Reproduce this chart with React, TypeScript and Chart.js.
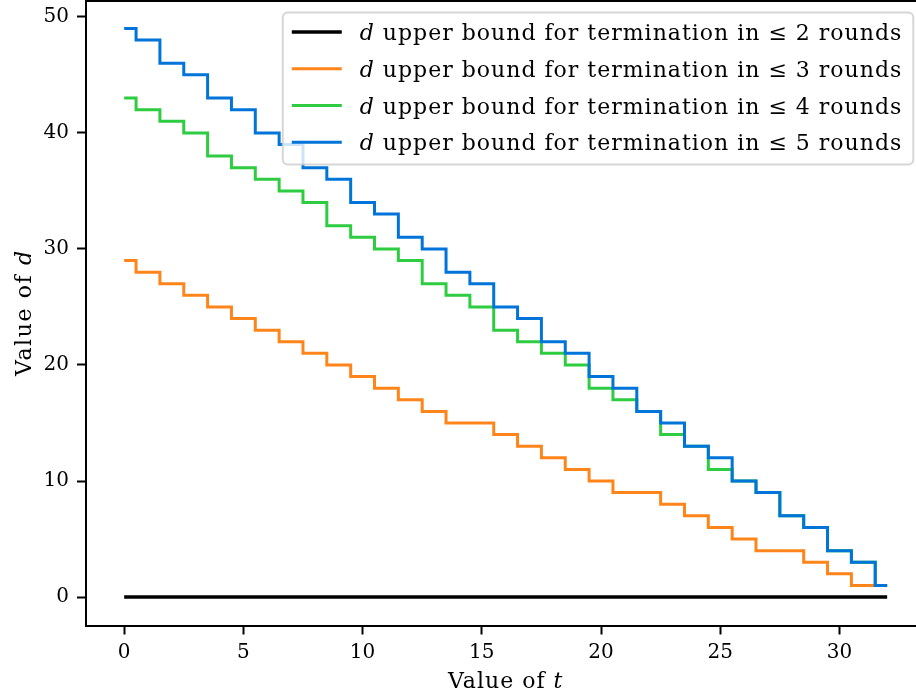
import React, { useEffect, useRef } from "react";
import { Chart, registerables } from "chart.js";

Chart.register(...registerables);

const FONT = '"DejaVu Serif", "Liberation Serif", serif';

// ---- data ----
const tValues = [0, 1, 2, 3, 4, 5, 6, 7, 8, 9, 10, 11, 12, 13, 14, 15, 16, 17, 18, 19, 20, 21, 22, 23, 24, 25, 26, 27, 28, 29, 30, 31, 32];
const boundRounds2 = [0, 0, 0, 0, 0, 0, 0, 0, 0, 0, 0, 0, 0, 0, 0, 0, 0, 0, 0, 0, 0, 0, 0, 0, 0, 0, 0, 0, 0, 0, 0, 0, 0];
const boundRounds3 = [29, 28, 27, 26, 25, 24, 23, 22, 21, 20, 19, 18, 17, 16, 15, 15, 14, 13, 12, 11, 10, 9, 9, 8, 7, 6, 5, 4, 4, 3, 2, 1, 1];
const boundRounds4 = [43, 42, 41, 40, 38, 37, 36, 35, 34, 32, 31, 30, 29, 27, 26, 25, 23, 22, 21, 20, 18, 17, 16, 14, 13, 11, 10, 9, 7, 6, 4, 3, 1];
const boundRounds5 = [49, 48, 46, 45, 43, 42, 40, 39, 37, 36, 34, 33, 31, 30, 28, 27, 25, 24, 22, 21, 19, 18, 16, 15, 13, 12, 10, 9, 7, 6, 4, 3, 1];
const roundLimits = [2, 3, 4, 5];
const seriesColors = ["#000000", "#FF851B", "#2ECC40", "#0074D9"];
const xTickValues = [0, 5, 10, 15, 20, 25, 30];
const yTickValues = [0, 10, 20, 30, 40, 50];
const legendVariable = "d";
const legendTexts = roundLimits.map((r) => ` upper bound for termination in ≤ ${r} rounds`);
const xTitle = ["Value of ", "t"];
const yTitle = ["Value of ", "d"];

type Part = { text: string; italic: boolean };

function partsWidth(ctx: CanvasRenderingContext2D, parts: Part[], size: number) {
  let w = 0;
  for (const p of parts) {
    ctx.font = `${p.italic ? "italic " : ""}${size}px ${FONT}`;
    w += ctx.measureText(p.text).width;
  }
  return w;
}

function drawParts(ctx: CanvasRenderingContext2D, parts: Part[], x: number, y: number, size: number) {
  let cx = x;
  for (const p of parts) {
    ctx.font = `${p.italic ? "italic " : ""}${size}px ${FONT}`;
    ctx.fillText(p.text, cx, y);
    cx += ctx.measureText(p.text).width;
  }
}

const overlayPlugin = {
  id: "overlay",
  afterDraw(chart: any) {
    const ctx: CanvasRenderingContext2D = chart.ctx;
    const a = chart.chartArea;
    ctx.save();
    // top and right spines
    ctx.strokeStyle = "#000";
    ctx.lineWidth = 2;
    ctx.beginPath();
    ctx.moveTo(a.left, a.top + 1);
    ctx.lineTo(a.right, a.top + 1);
    ctx.lineTo(a.right, a.bottom);
    ctx.stroke();

    ctx.fillStyle = "#000";
    ctx.textAlign = "left";
    ctx.textBaseline = "alphabetic";
    (ctx as any).letterSpacing = "1px";

    // x title
    const xp: Part[] = [{ text: xTitle[0], italic: false }, { text: xTitle[1], italic: true }];
    const xw = partsWidth(ctx, xp, 22);
    drawParts(ctx, xp, (a.left + a.right) / 2 - xw / 2, 688, 22);

    // y title
    const yp: Part[] = [{ text: yTitle[0], italic: false }, { text: yTitle[1], italic: true }];
    ctx.save();
    ctx.translate(31, (a.top + a.bottom) / 2);
    ctx.rotate(-Math.PI / 2);
    (ctx as any).letterSpacing = "1.6px";
    const yw = partsWidth(ctx, yp, 22);
    drawParts(ctx, yp, -yw / 2, 0, 22);
    ctx.restore();

    // legend
    (ctx as any).letterSpacing = "1px";
    const rows: Part[][] = legendTexts.map((t) => [
      { text: legendVariable, italic: true },
      { text: t, italic: false },
    ]);
    const textW = Math.max(...rows.map((r) => partsWidth(ctx, r, 22)));
    const padL = 9, lineLen = 50, gap = 18, padR = 11;
    const boxW = padL + lineLen + gap + textW + padR;
    const rowH = 36.7;
    const boxH = 19.6 + rowH * (rows.length - 1) + 22.3;
    const boxRight = a.right - 12;
    const boxLeft = boxRight - boxW;
    const boxTop = a.top + 12.5;
    const r = 5;
    ctx.beginPath();
    ctx.moveTo(boxLeft + r, boxTop);
    ctx.lineTo(boxLeft + boxW - r, boxTop);
    ctx.arcTo(boxLeft + boxW, boxTop, boxLeft + boxW, boxTop + r, r);
    ctx.lineTo(boxLeft + boxW, boxTop + boxH - r);
    ctx.arcTo(boxLeft + boxW, boxTop + boxH, boxLeft + boxW - r, boxTop + boxH, r);
    ctx.lineTo(boxLeft + r, boxTop + boxH);
    ctx.arcTo(boxLeft, boxTop + boxH, boxLeft, boxTop + boxH - r, r);
    ctx.lineTo(boxLeft, boxTop + r);
    ctx.arcTo(boxLeft, boxTop, boxLeft + r, boxTop, r);
    ctx.closePath();
    ctx.fillStyle = "rgba(255,255,255,0.8)";
    ctx.fill();
    ctx.strokeStyle = "rgba(204,204,204,0.8)";
    ctx.lineWidth = 2;
    ctx.stroke();

    rows.forEach((row, i) => {
      const cy = boxTop + 19.6 + rowH * i;
      ctx.strokeStyle = seriesColors[i];
      ctx.lineWidth = i === 0 ? 3.5 : 3;
      ctx.beginPath();
      ctx.moveTo(boxLeft + padL, cy);
      ctx.lineTo(boxLeft + padL + lineLen, cy);
      ctx.stroke();
      ctx.fillStyle = "#000";
      drawParts(ctx, row, boxLeft + padL + lineLen + gap, cy + 8, 22);
    });
    ctx.restore();
  },
};

export default function App() {
  const canvasRef = useRef<HTMLCanvasElement | null>(null);

  useEffect(() => {
    const canvas = canvasRef.current;
    if (!canvas) return;
    const seriesList = [boundRounds2, boundRounds3, boundRounds4, boundRounds5];
    const datasets = seriesList.map((arr, i) => ({
      label: `${legendVariable}${legendTexts[i]}`,
      data: tValues.map((t, j) => ({ x: t, y: arr[j] })),
      borderColor: seriesColors[i],
      backgroundColor: seriesColors[i],
      borderWidth: i === 0 ? 3.5 : 3,
      stepped: "middle" as const,
      pointRadius: 0,
      pointHoverRadius: 0,
      fill: false,
      order: 4 - i,
    }));

    const tickFont = { family: FONT, size: 20 };
    const chart = new Chart(canvas, {
      type: "line",
      data: { datasets },
      plugins: [overlayPlugin],
      options: {
        animation: false,
        responsive: false,
        events: [],
        layout: { padding: { left: 0, top: 0, right: 4.7, bottom: 0 } },
        plugins: {
          legend: { display: false },
          tooltip: { enabled: false },
        },
        scales: {
          x: {
            type: "linear",
            min: -1.6,
            max: 33.6,
            afterBuildTicks: (s: any) => {
              s.ticks = xTickValues.map((v) => ({ value: v }));
            },
            afterFit: (s: any) => {
              s.height = 70.5;
              s.paddingLeft = 0;
              s.paddingRight = 0;
            },
            grid: { drawOnChartArea: false, drawTicks: true, tickLength: 9, tickWidth: 2, tickColor: "#000" },
            border: { display: true, color: "#000", width: 2 },
            ticks: { color: "#000", font: tickFont, padding: 6, maxRotation: 0, autoSkip: false },
          },
          y: {
            type: "linear",
            min: -2.45,
            max: 51.45,
            afterBuildTicks: (s: any) => {
              s.ticks = yTickValues.map((v) => ({ value: v }));
            },
            afterFit: (s: any) => {
              s.width = 86;
              s.paddingTop = 0;
              s.paddingBottom = 0;
            },
            grid: { drawOnChartArea: false, drawTicks: true, tickLength: 9, tickWidth: 2, tickColor: "#000" },
            border: { display: true, color: "#000", width: 2 },
            ticks: { color: "#000", font: tickFont, padding: 8, autoSkip: false },
          },
        },
      },
    });
    return () => chart.destroy();
  }, []);

  return (
    <div
      style={{
        position: "fixed",
        left: 0,
        top: 0,
        width: 916,
        height: 696,
        overflow: "hidden",
        background: "#fff",
      }}
    >
      <canvas ref={canvasRef} width={930} height={696} style={{ display: "block", width: 930, height: 696 }} />
    </div>
  );
}
